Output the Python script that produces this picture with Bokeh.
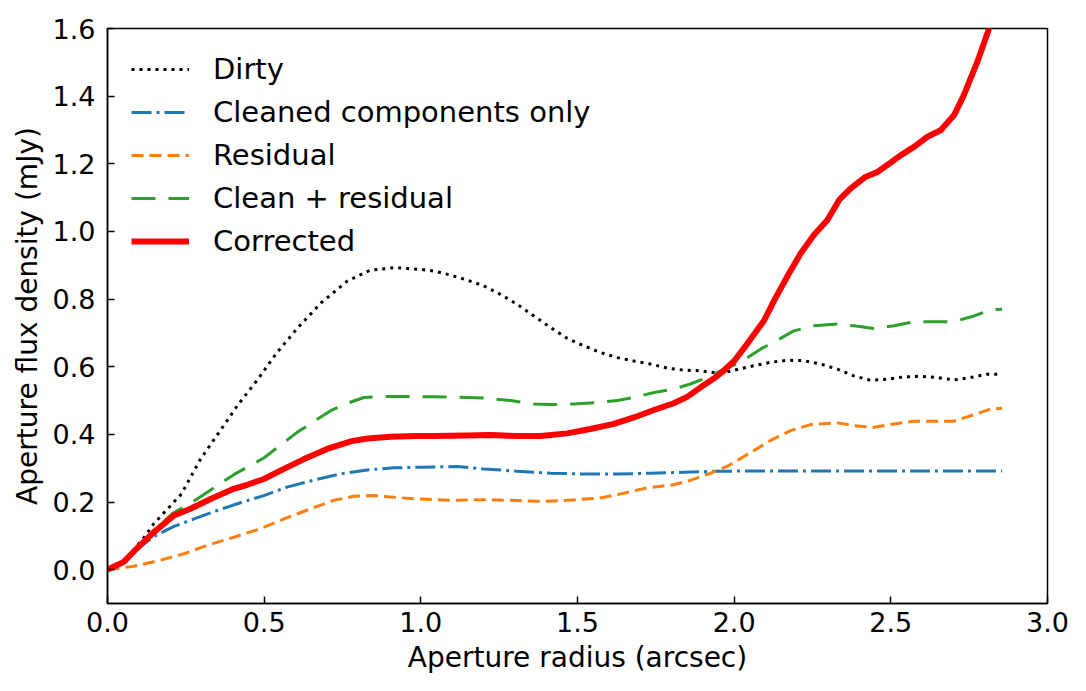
from bokeh.plotting import figure
from bokeh.models import Legend, LegendItem, FixedTicker, NumeralTickFormatter, Range1d
from bokeh.embed import file_html
from bokeh.resources import INLINE

# ---- data ----
dirty_x = [0.0, 0.052, 0.11, 0.148, 0.236, 0.297, 0.356, 0.416, 0.480, 0.541, 0.610, 0.683, 0.765, 0.837, 0.916,
           0.997, 1.041, 1.095, 1.148, 1.201, 1.254, 1.307, 1.361, 1.414, 1.467, 1.520, 1.573, 1.627, 1.680,
           1.733, 1.786, 1.839, 1.892, 1.956, 2.010, 2.063, 2.116, 2.169, 2.222, 2.276, 2.329, 2.382, 2.435,
           2.488, 2.541, 2.595, 2.648, 2.701, 2.754, 2.807, 2.855]
dirty_y = [0.0, 0.025, 0.087, 0.136, 0.224, 0.327, 0.406, 0.487, 0.563, 0.642, 0.718, 0.790, 0.853, 0.885, 0.893,
           0.888, 0.883, 0.871, 0.856, 0.839, 0.814, 0.785, 0.750, 0.716, 0.684, 0.662, 0.642, 0.627, 0.617,
           0.608, 0.596, 0.590, 0.588, 0.580, 0.592, 0.603, 0.613, 0.619, 0.618, 0.608, 0.593, 0.573, 0.560,
           0.563, 0.570, 0.572, 0.568, 0.561, 0.568, 0.578, 0.578]

clean_x = [0.0, 0.052, 0.095, 0.148, 0.212, 0.276, 0.350, 0.424, 0.499, 0.573, 0.659, 0.744, 0.829, 0.914,
           0.999, 1.116, 1.201, 1.307, 1.414, 1.520, 1.627, 1.733, 1.839, 1.945, 2.1, 2.3, 2.5, 2.7, 2.855]
clean_y = [0.0, 0.023, 0.062, 0.098, 0.128, 0.150, 0.175, 0.198, 0.219, 0.244, 0.265, 0.283, 0.295, 0.301,
           0.303, 0.305, 0.298, 0.291, 0.285, 0.283, 0.283, 0.285, 0.288, 0.291, 0.292, 0.292, 0.292, 0.292, 0.292]

resid_x = [0.0, 0.084, 0.169, 0.244, 0.318, 0.403, 0.488, 0.563, 0.648, 0.722, 0.786, 0.850, 0.914, 0.988,
           1.095, 1.201, 1.286, 1.382, 1.467, 1.573, 1.637, 1.722, 1.807, 1.860, 1.924, 1.983, 2.063, 2.116,
           2.180, 2.244, 2.329, 2.382, 2.446, 2.510, 2.574, 2.637, 2.701, 2.765, 2.818, 2.855]
resid_y = [0.0, 0.010, 0.028, 0.047, 0.072, 0.096, 0.121, 0.150, 0.180, 0.205, 0.217, 0.219, 0.214, 0.209,
           0.205, 0.207, 0.205, 0.202, 0.205, 0.212, 0.224, 0.242, 0.251, 0.264, 0.285, 0.308, 0.352, 0.382,
           0.411, 0.429, 0.434, 0.426, 0.421, 0.431, 0.439, 0.439, 0.439, 0.458, 0.475, 0.477]

cpr_x = [0.0, 0.052, 0.095, 0.148, 0.206, 0.286, 0.403, 0.499, 0.605, 0.712, 0.765, 0.818, 0.882, 0.956,
         1.041, 1.148, 1.212, 1.286, 1.361, 1.414, 1.488, 1.573, 1.627, 1.680, 1.744, 1.807, 1.860, 1.914,
         1.956, 2.020, 2.084, 2.148, 2.190, 2.254, 2.329, 2.382, 2.446, 2.510, 2.574, 2.637, 2.701, 2.765,
         2.818, 2.855]
cpr_y = [0.0, 0.025, 0.066, 0.113, 0.165, 0.209, 0.281, 0.330, 0.406, 0.470, 0.492, 0.509, 0.512, 0.512,
         0.511, 0.509, 0.507, 0.500, 0.490, 0.488, 0.490, 0.495, 0.500, 0.509, 0.524, 0.534, 0.549, 0.568,
         0.588, 0.613, 0.652, 0.684, 0.706, 0.721, 0.726, 0.721, 0.713, 0.721, 0.733, 0.733, 0.733, 0.750,
         0.768, 0.770]

corr_x = [0.0, 0.052, 0.095, 0.148, 0.212, 0.265, 0.329, 0.403, 0.446, 0.499, 0.563, 0.627, 0.701, 0.779,
          0.831, 0.903, 0.988, 1.041, 1.148, 1.222, 1.307, 1.382, 1.467, 1.541, 1.616, 1.680, 1.744, 1.807,
          1.850, 1.893, 1.935, 1.966, 2.0, 2.041, 2.095, 2.130, 2.169, 2.212, 2.255, 2.297, 2.335, 2.372,
          2.419, 2.457, 2.499, 2.531, 2.574, 2.617, 2.659, 2.702, 2.733, 2.776, 2.808, 2.855]
corr_y = [0.0, 0.023, 0.064, 0.111, 0.160, 0.180, 0.209, 0.239, 0.251, 0.268, 0.298, 0.327, 0.357, 0.380,
          0.388, 0.393, 0.395, 0.395, 0.397, 0.398, 0.395, 0.395, 0.403, 0.416, 0.431, 0.450, 0.472, 0.492,
          0.511, 0.539, 0.565, 0.588, 0.617, 0.667, 0.736, 0.800, 0.866, 0.935, 0.990, 1.033, 1.093, 1.127,
          1.161, 1.176, 1.203, 1.225, 1.250, 1.280, 1.299, 1.344, 1.403, 1.501, 1.585, 1.72]

x_ticks = [0.0, 0.5, 1.0, 1.5, 2.0, 2.5, 3.0]
y_ticks = [0.0, 0.2, 0.4, 0.6, 0.8, 1.0, 1.2, 1.4, 1.6]
labels = ["Dirty", "Cleaned components only", "Residual", "Clean + residual", "Corrected"]

FONT = "DejaVu Sans"

p = figure(width=1086, height=691, output_backend="svg", toolbar_location=None,
           x_range=Range1d(0, 3.0), y_range=Range1d(-0.1, 1.6),
           min_border_left=107, min_border_right=39, min_border_top=28, min_border_bottom=88)
p.xgrid.visible = False
p.ygrid.visible = False
p.outline_line_color = "black"
p.outline_line_width = 1.5
p.outline_line_alpha = 1.0
p.background_fill_color = "white"
p.border_fill_color = "white"

r_dirty = p.line(dirty_x, dirty_y, line_color="black", line_width=3, line_dash="3 5")
r_clean = p.line(clean_x, clean_y, line_color="#1f77b4", line_width=3, line_dash="20 5 3 5")
r_resid = p.line(resid_x, resid_y, line_color="#ff7f0e", line_width=3, line_dash="12 6")
r_cpr = p.line(cpr_x, cpr_y, line_color="#2ca02c", line_width=3, line_dash="24 13")
r_corr = p.line(corr_x, corr_y, line_color="red", line_width=6, line_join="round")

for ax, ticks in ((p.xaxis, x_ticks), (p.yaxis, y_ticks)):
    ax.ticker = FixedTicker(ticks=ticks)
    ax.formatter = NumeralTickFormatter(format="0.0")
    ax.major_label_text_font = FONT
    ax.major_label_text_font_size = "27px"
    ax.major_label_text_color = "black"
    ax.axis_label_text_font = FONT
    ax.axis_label_text_font_size = "28px"
    ax.axis_label_text_font_style = "normal"
    ax.axis_label_text_color = "black"
    ax.major_tick_in = 7
    ax.major_tick_out = 0
    ax.major_tick_line_color = "black"
    ax.major_tick_line_width = 1.5
    ax.minor_tick_line_color = None
    ax.axis_line_color = "black"
    ax.axis_line_width = 1.5

p.xaxis.axis_label = "Aperture radius (arcsec)"
p.yaxis.axis_label = "Aperture flux density (mJy)"
p.xaxis.major_label_standoff = 8
p.yaxis.major_label_standoff = 12
p.xaxis.axis_label_standoff = 6
p.yaxis.axis_label_standoff = 6

legend = Legend(items=[LegendItem(label=l, renderers=[r]) for l, r in
                       zip(labels, [r_dirty, r_clean, r_resid, r_cpr, r_corr])],
                location="top_left")
legend.background_fill_alpha = 0
legend.border_line_alpha = 0
legend.label_text_font = FONT
legend.label_text_font_size = "29px"
legend.label_text_color = "black"
legend.glyph_width = 58
legend.glyph_height = 34
legend.label_height = 34
legend.spacing = 9
legend.label_standoff = 24
legend.margin = 14
legend.padding = 10
p.add_layout(legend)

open("out.html", "w").write(file_html(p, INLINE))
